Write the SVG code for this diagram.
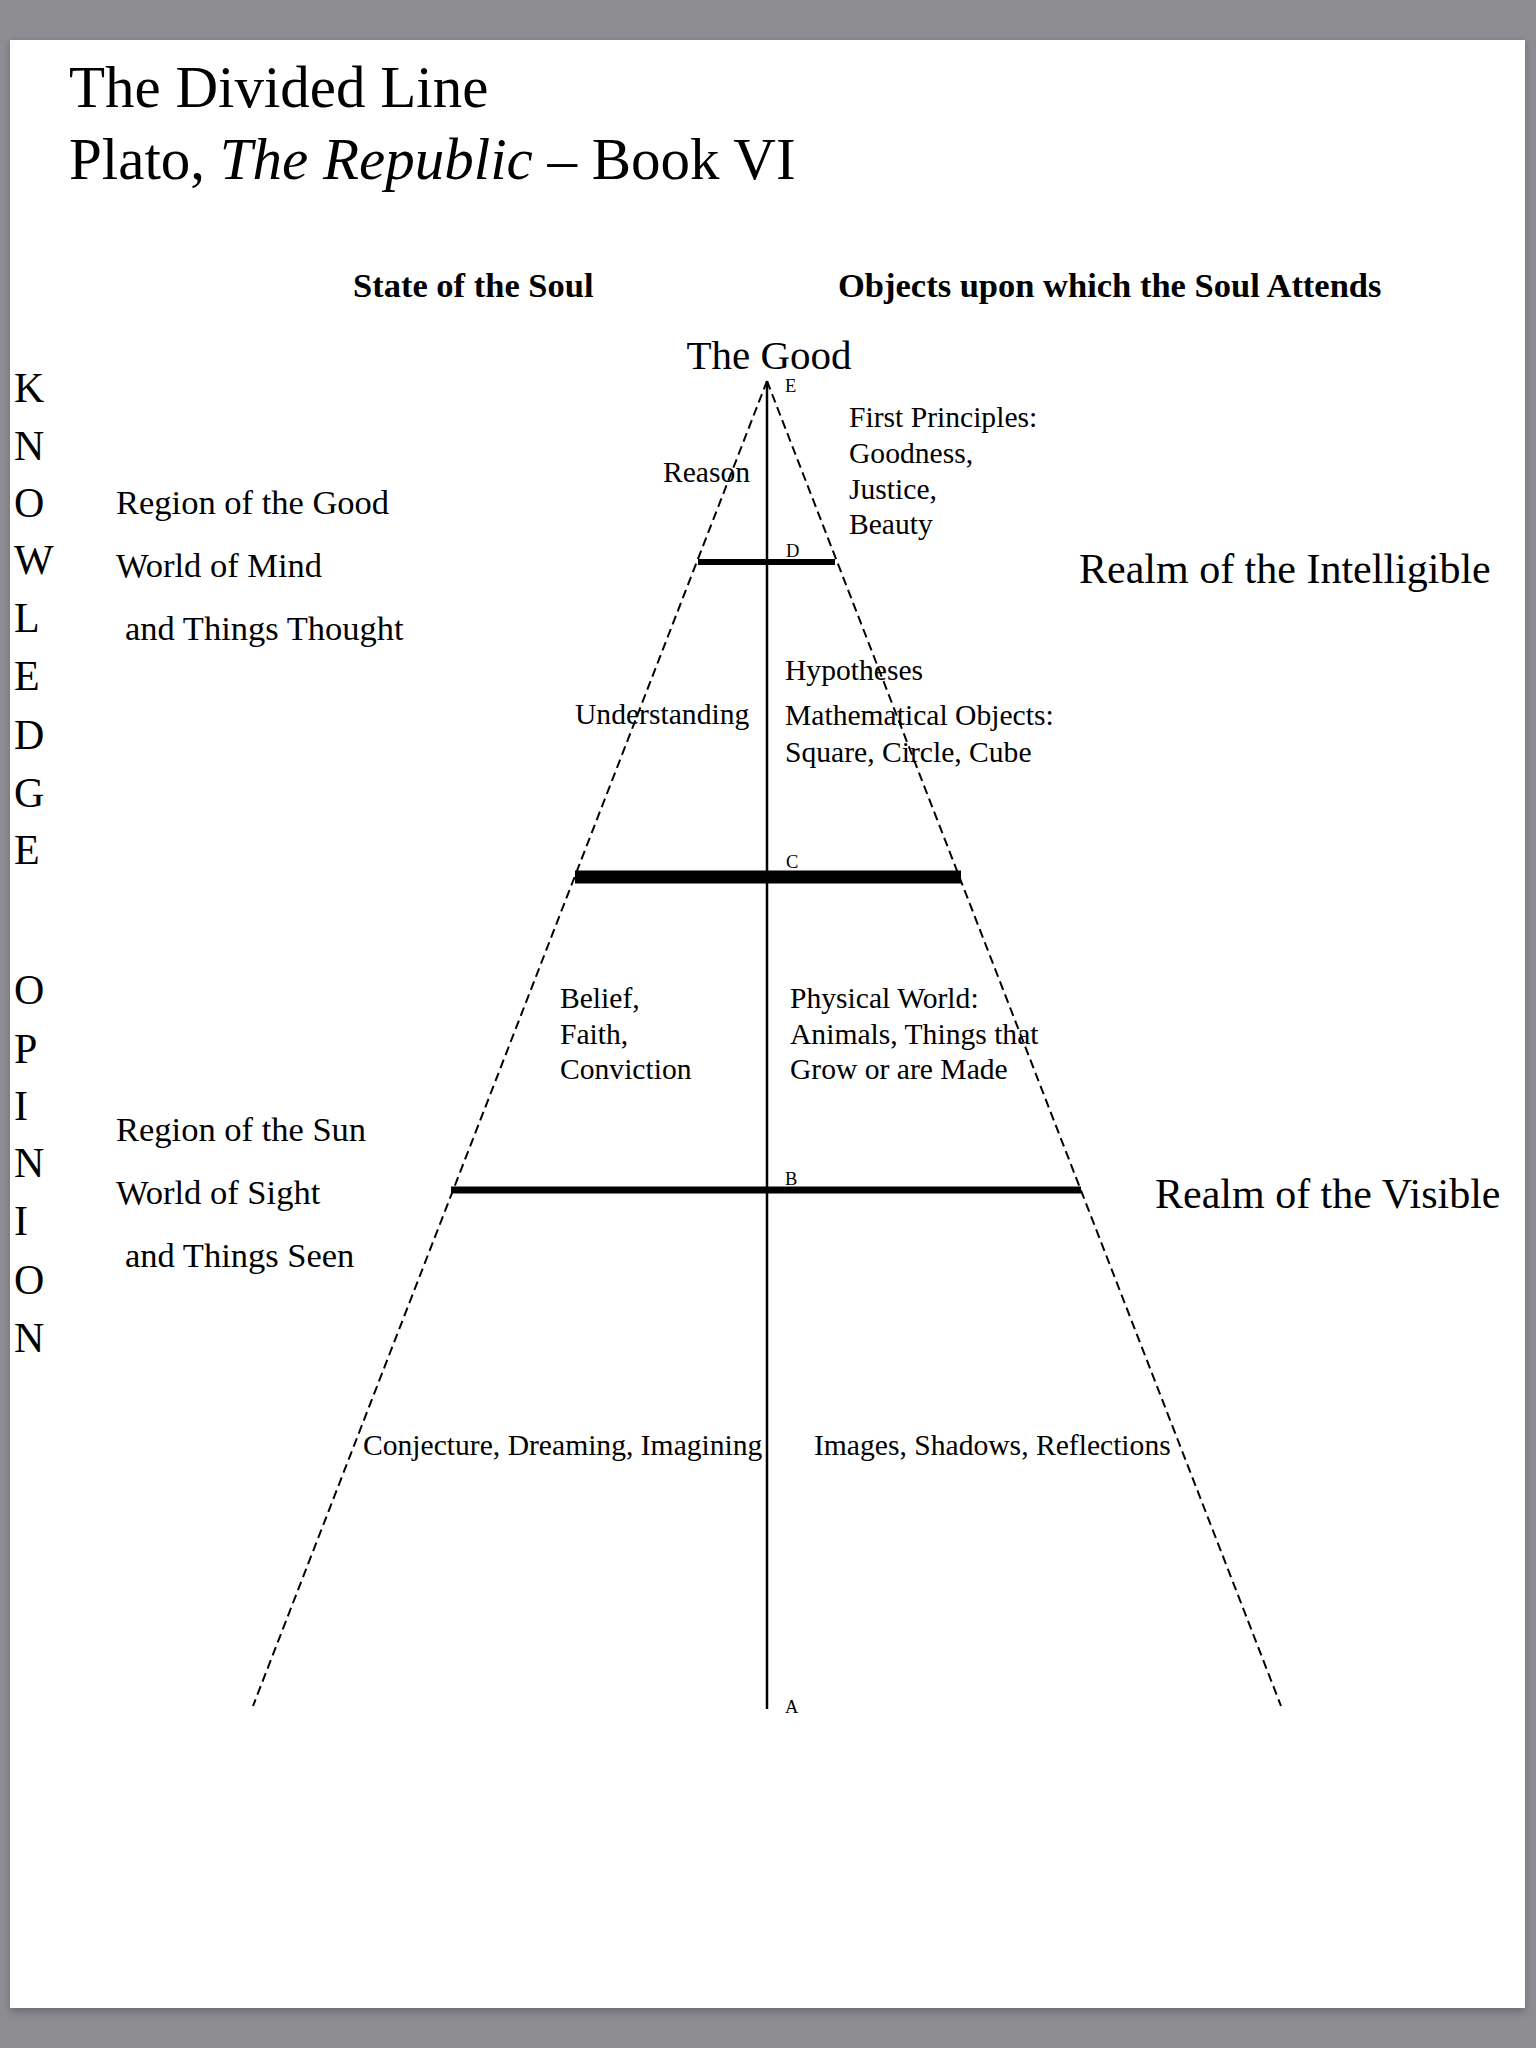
<svg xmlns="http://www.w3.org/2000/svg" width="1536" height="2048" viewBox="0 0 1536 2048">
<defs>
<style>
text{font-family:"Liberation Serif","Times New Roman",serif;fill:#000}
.t{font-size:59px}
.h{font-size:34.5px;font-weight:bold}
.b{font-size:29.6px}
.r{font-size:34.5px}
.v{font-size:42px}
.p{font-size:18.5px}
.dash{stroke:#000;stroke-width:2;stroke-dasharray:9 5;fill:none}
.bar{stroke:#000;fill:none}
</style>
<filter id="sh" x="-5%" y="-5%" width="110%" height="110%"><feGaussianBlur stdDeviation="4"/></filter>
</defs>
<rect x="0" y="0" width="1536" height="2048" fill="#8e8d92"/>
<rect x="10" y="42" width="1515" height="1970" fill="#6d6c70" filter="url(#sh)"/>
<rect x="10" y="40" width="1515" height="1968" fill="#fff"/>

<g id="title">
<text class="t" x="69" y="107">The Divided Line</text>
<text class="t" x="69" y="179">Plato, <tspan font-style="italic">The Republic</tspan> – Book VI</text>
</g>

<g id="headers">
<text class="h" x="353" y="297">State of the Soul</text>
<text class="h" x="838" y="297">Objects upon which the Soul Attends</text>
</g>

<g id="connectors">
<line class="dash" x1="767" y1="381" x2="253" y2="1706"/>
<line class="dash" x1="767" y1="381" x2="1281" y2="1706"/>
<line x1="767" y1="381" x2="767" y2="1709" stroke="#000" stroke-width="2.5"/>
<line class="bar" x1="698" y1="562" x2="835" y2="562" stroke-width="6"/>
<line class="bar" x1="575" y1="877" x2="961" y2="877" stroke-width="13"/>
<line class="bar" x1="451" y1="1190" x2="1081" y2="1190" stroke-width="7"/>
</g>

<g id="good"><text x="769" y="369" font-size="41" text-anchor="middle">The Good</text></g>
<g id="points">
<text class="p" x="785" y="392">E</text>
<text class="p" x="786" y="557">D</text>
<text class="p" x="786" y="868">C</text>
<text class="p" x="785" y="1185">B</text>
<text class="p" x="785" y="1713">A</text>
</g>

<g id="reason"><text class="b" x="663" y="482">Reason</text></g>
<g id="first-principles">
<text class="b" x="849" y="427">First Principles:</text>
<text class="b" x="849" y="463">Goodness,</text>
<text class="b" x="849" y="499">Justice,</text>
<text class="b" x="849" y="534">Beauty</text>
</g>
<g id="understanding"><text class="b" x="575" y="724">Understanding</text></g>
<g id="hypotheses">
<text class="b" x="785" y="680">Hypotheses</text>
<text class="b" x="785" y="725">Mathematical Objects:</text>
<text class="b" x="785" y="762">Square, Circle, Cube</text>
</g>
<g id="belief">
<text class="b" x="560" y="1008">Belief,</text>
<text class="b" x="560" y="1044">Faith,</text>
<text class="b" x="560" y="1079">Conviction</text>
</g>
<g id="physical">
<text class="b" x="790" y="1008">Physical World:</text>
<text class="b" x="790" y="1044">Animals, Things that</text>
<text class="b" x="790" y="1079">Grow or are Made</text>
</g>
<g id="conjecture"><text class="b" x="363" y="1455">Conjecture, Dreaming, Imagining</text></g>
<g id="images"><text class="b" x="814" y="1455">Images, Shadows, Reflections</text></g>

<g id="region-good">
<text class="r" x="116" y="514">Region of the Good</text>
<text class="r" x="116" y="577">World of Mind</text>
<text class="r" x="125" y="640">and Things Thought</text>
</g>
<g id="region-sun">
<text class="r" x="116" y="1141">Region of the Sun</text>
<text class="r" x="116" y="1204">World of Sight</text>
<text class="r" x="125" y="1267">and Things Seen</text>
</g>

<g id="realms">
<text class="v" x="1079" y="583">Realm of the Intelligible</text>
<text class="v" x="1155" y="1208">Realm of the Visible</text>
</g>

<g id="knowledge">
<text class="v" x="14" y="402">K</text>
<text class="v" x="14" y="460">N</text>
<text class="v" x="14" y="517">O</text>
<text class="v" x="14" y="574">W</text>
<text class="v" x="14" y="632">L</text>
<text class="v" x="14" y="690">E</text>
<text class="v" x="14" y="749">D</text>
<text class="v" x="14" y="807">G</text>
<text class="v" x="14" y="864">E</text>
</g>
<g id="opinion">
<text class="v" x="14" y="1004">O</text>
<text class="v" x="14" y="1063">P</text>
<text class="v" x="14" y="1120">I</text>
<text class="v" x="14" y="1177">N</text>
<text class="v" x="14" y="1235">I</text>
<text class="v" x="14" y="1294">O</text>
<text class="v" x="14" y="1352">N</text>
</g>
</svg>
